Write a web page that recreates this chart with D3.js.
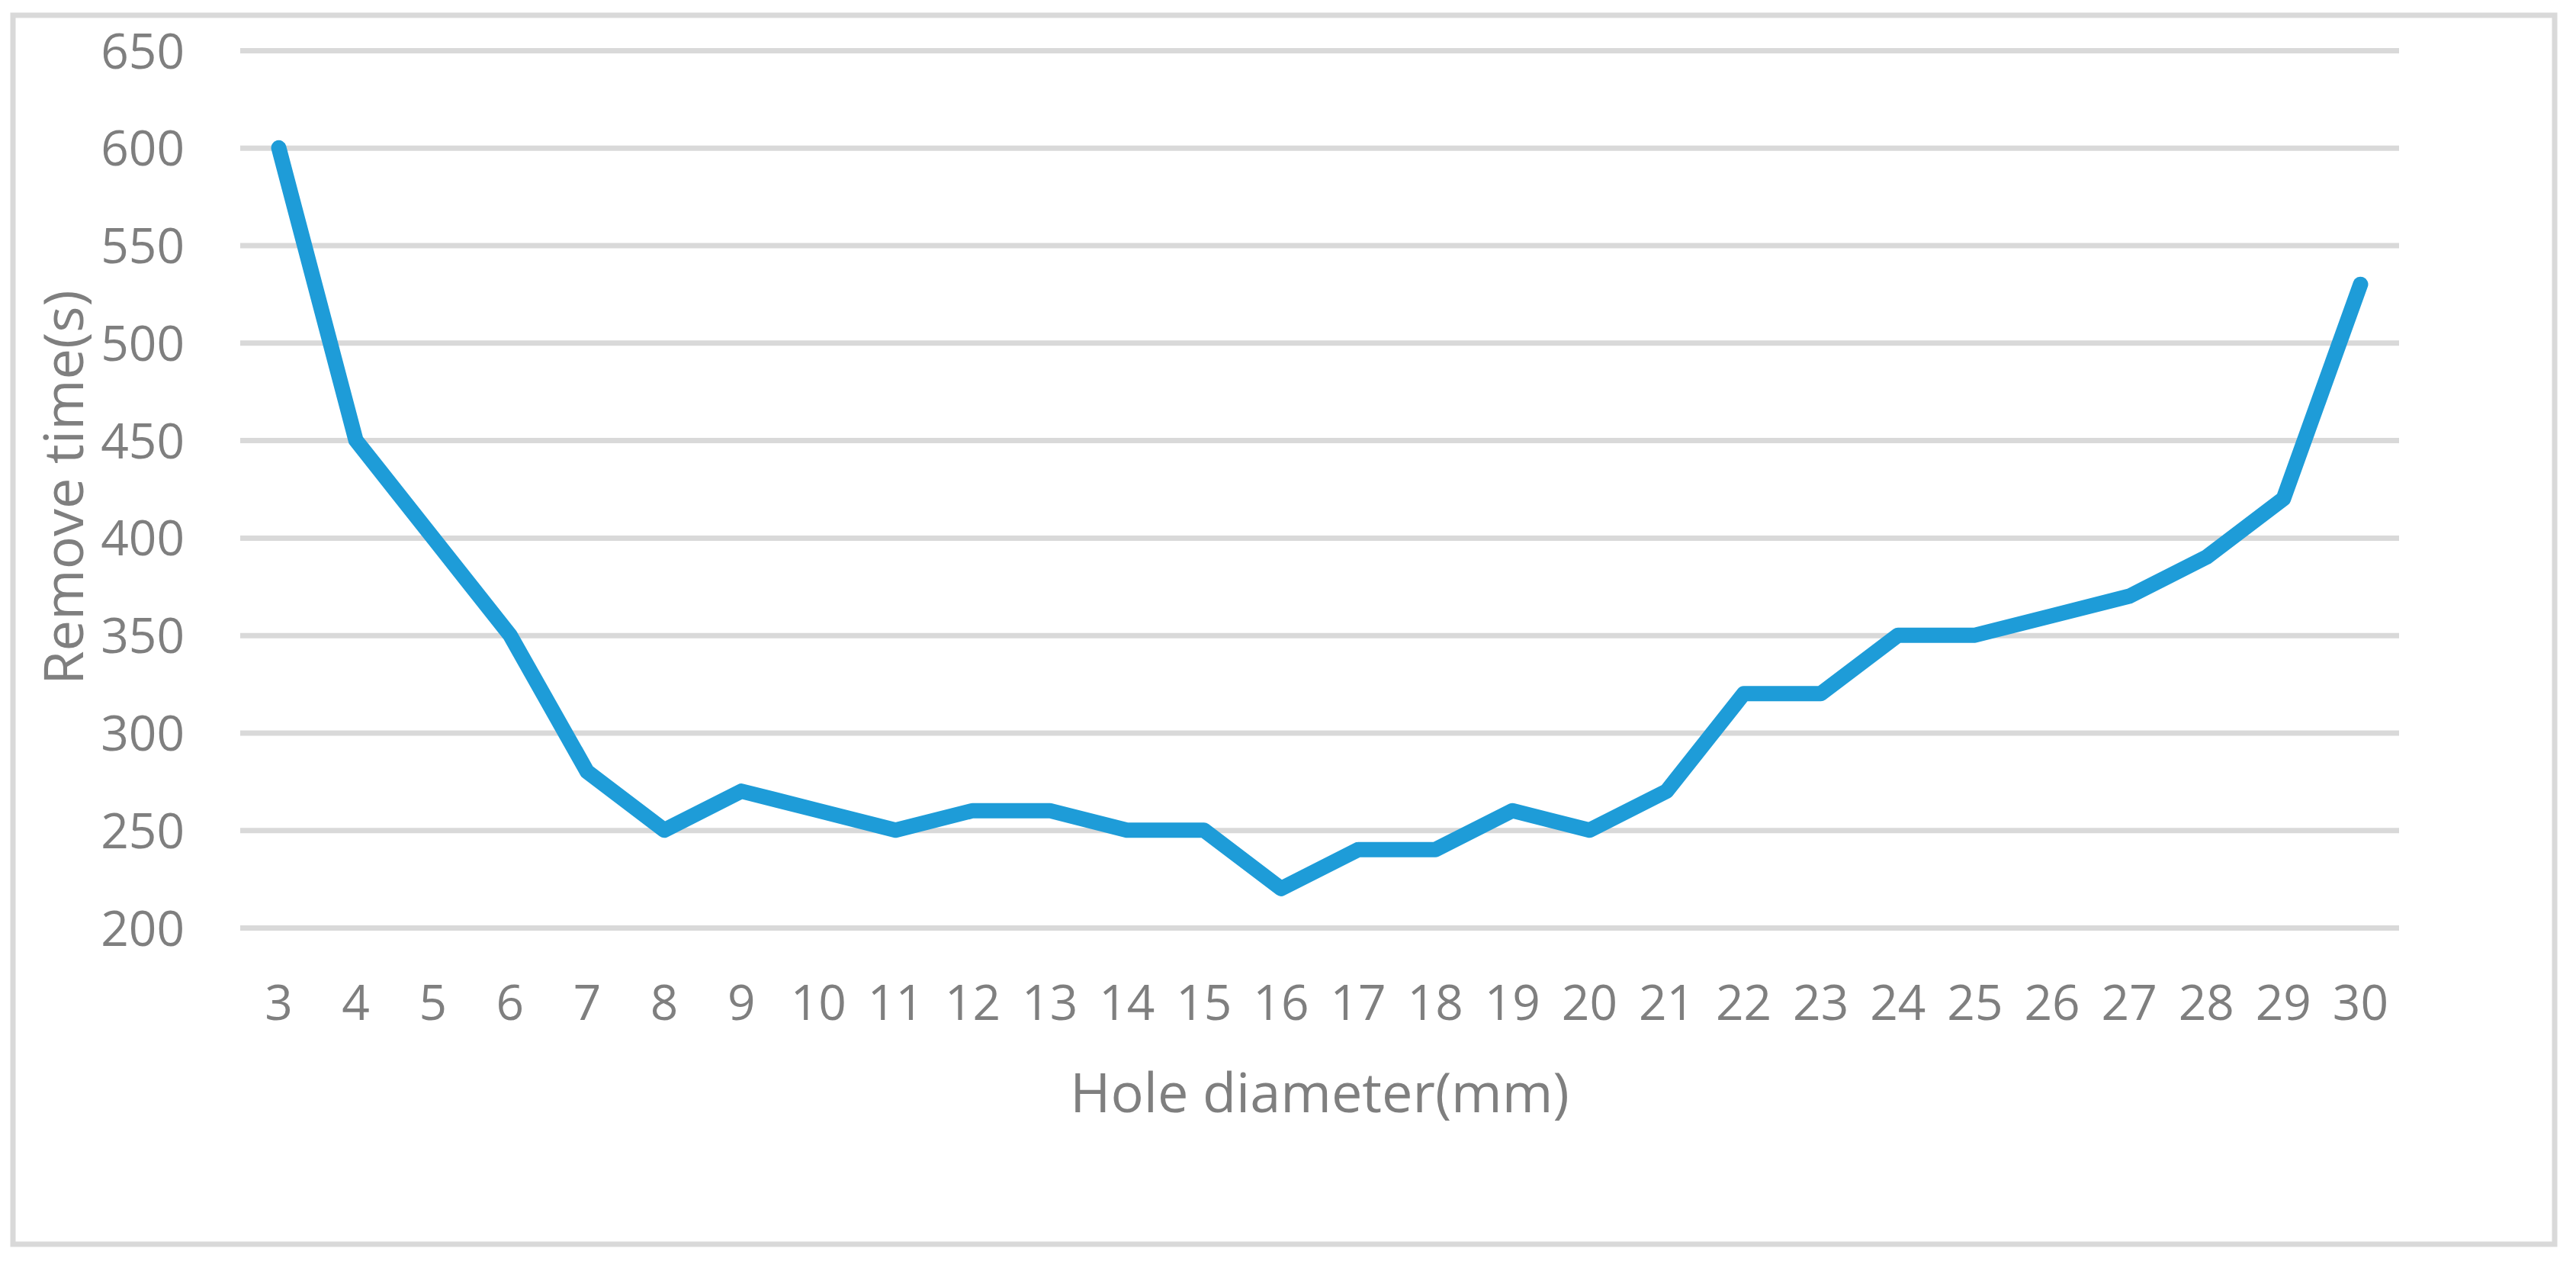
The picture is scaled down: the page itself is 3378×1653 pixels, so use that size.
<!DOCTYPE html>
<html>
<head>
<meta charset="utf-8">
<script src="https://cdn.jsdelivr.net/npm/d3@7"></script>
<style>
  html, body { margin: 0; padding: 0; background: #ffffff; }
  svg { display: block; }
  text { font-family: "Open Sans", "Noto Sans", sans-serif; fill: #7f7f7f; }
</style>
</head>
<body>
<svg id="chart" width="3378" height="1653"></svg>
<script>
const categories = [3,4,5,6,7,8,9,10,11,12,13,14,15,16,17,18,19,20,21,22,23,24,25,26,27,28,29,30];
const removeTime = [600,450,400,350,280,250,270,260,250,260,260,250,250,220,240,240,260,250,270,320,320,350,350,360,370,390,420,530];
const yTicks = [200,250,300,350,400,450,500,550,600,650];
const xTitle = "Hole diameter(mm)";
const yTitle = "Remove time(s)";

const W = 3378, H = 1653;
const plot = { left: 315, right: 3146, top: 66, bottom: 1216 };

const svg = d3.select("#chart");

// outer frame
svg.append("rect")
  .attr("x", 17).attr("y", 20)
  .attr("width", 3350 - 17).attr("height", 1631 - 20)
  .attr("fill", "#ffffff")
  .attr("stroke", "#d9d9d9")
  .attr("stroke-width", 7);

const x = d3.scaleBand()
  .domain(categories)
  .range([plot.left, plot.right])
  .paddingInner(0).paddingOuter(0);

const y = d3.scaleLinear()
  .domain([200, 650])
  .range([plot.bottom, plot.top]);

// gridlines + y labels
const yAxis = d3.axisLeft(y)
  .tickValues(yTicks)
  .tickSize(-(plot.right - plot.left))
  .tickPadding(73)
  .tickFormat(d3.format("d"));

const gy = svg.append("g")
  .attr("transform", `translate(${plot.left},0)`)
  .call(yAxis);
gy.select(".domain").remove();
gy.selectAll(".tick line")
  .attr("stroke", "#d9d9d9")
  .attr("stroke-width", 7);
gy.selectAll(".tick text")
  .style("font-family", '"Open Sans", "Noto Sans", sans-serif')
  .style("font-size", "64px")
  .attr("fill", "#7f7f7f")
  .attr("dy", "0.36em");

// x axis labels
const xAxis = d3.axisBottom(x)
  .tickSize(0)
  .tickPadding(0);
const gx = svg.append("g")
  .attr("transform", `translate(0,${plot.bottom})`)
  .call(xAxis);
gx.select(".domain").remove();
gx.selectAll(".tick text")
  .style("font-family", '"Open Sans", "Noto Sans", sans-serif')
  .style("font-size", "64px")
  .attr("fill", "#7f7f7f")
  .attr("y", 121)
  .attr("dy", 0);

// line
const line = d3.line()
  .x((d, i) => x(categories[i]) + x.bandwidth() / 2)
  .y(d => y(d));

svg.append("path")
  .datum(removeTime)
  .attr("d", line)
  .attr("fill", "none")
  .attr("stroke", "#1e9cd8")
  .attr("stroke-width", 20)
  .attr("stroke-linecap", "round")
  .attr("stroke-linejoin", "round");

// axis titles
svg.append("text")
  .attr("x", (plot.left + plot.right) / 2)
  .attr("y", 1458)
  .attr("text-anchor", "middle")
  .style("font-size", "72px")
  .text(xTitle);

svg.append("text")
  .attr("transform", `translate(109,${(plot.top + plot.bottom) / 2 - 2}) rotate(-90)`)
  .attr("text-anchor", "middle")
  .style("font-size", "72px")
  .text(yTitle);
</script>
</body>
</html>
